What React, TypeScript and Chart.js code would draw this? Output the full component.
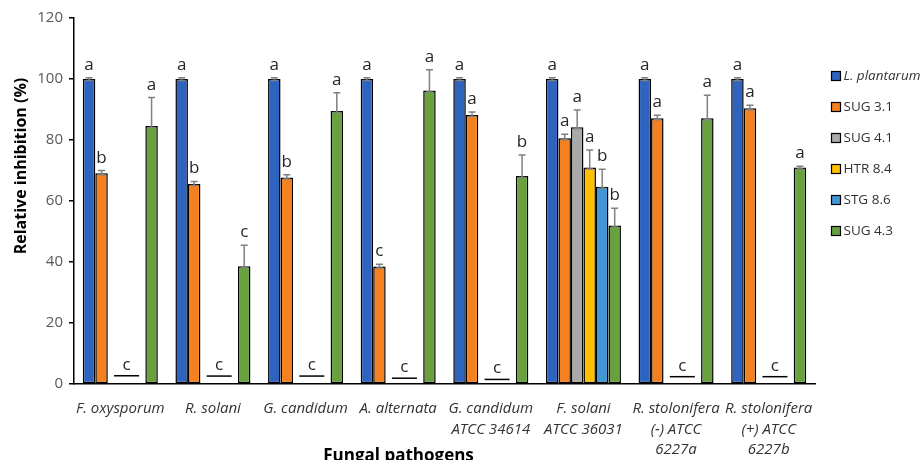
import React, { useEffect, useRef } from "react";
import { Chart, registerables } from "chart.js";
Chart.register(...registerables);

const categories: string[][] = [
  ["F. oxysporum"],
  ["R. solani"],
  ["G. candidum"],
  ["A. alternata"],
  ["G. candidum", "ATCC 34614"],
  ["F. solani", "ATCC 36031"],
  ["R. stolonifera", "(-) ATCC", "6227a"],
  ["R. stolonifera", "(+) ATCC", "6227b"],
];

const seriesNames = ["L. plantarum", "SUG 3.1", "SUG 4.1", "HTR 8.4", "STG 8.6", "SUG 4.3"];
const seriesColors = ["#2e63bf", "#f5801f", "#a9a9a9", "#ffc000", "#4396d4", "#69a13f"];

const lPlantarum = [100, 100, 100, 100, 100, 100, 100, 100];
const lPlantarumErr = [0.4, 0.4, 0.4, 0.4, 0.4, 0.4, 0.4, 0.4];
const lPlantarumLetters = ["a", "a", "a", "a", "a", "a", "a", "a"];

const sug31 = [69.1, 65.6, 67.7, 38.5, 88.2, 80.6, 87.1, 90.4];
const sug31Err = [0.9, 0.8, 0.9, 0.8, 1.0, 1.3, 1.0, 1.0];
const sug31Letters = ["b", "b", "b", "c", "a", "a", "a", "a"];

const sug41 = [null, null, null, null, null, 84.2, null, null];
const sug41Err = [0, 0, 0, 0, 0, 5.6, 0, 0];
const sug41Letters = ["", "", "", "", "", "a", "", ""];

const htr84 = [null, null, null, null, null, 71.0, null, null];
const htr84Err = [0, 0, 0, 0, 0, 5.7, 0, 0];
const htr84Letters = ["", "", "", "", "", "a", "", ""];

const stg86 = [null, null, null, null, null, 64.7, null, null];
const stg86Err = [0, 0, 0, 0, 0, 5.7, 0, 0];
const stg86Letters = ["", "", "", "", "", "b", "", ""];

const sug43 = [84.6, 38.6, 89.5, 96.2, 68.2, 52.0, 87.1, 71.0];
const sug43Err = [9.3, 6.9, 6.0, 6.8, 6.9, 5.6, 7.6, 0.4];
const sug43Letters = ["a", "c", "a", "a", "b", "b", "a", "a"];

// level of the "no inhibition" marker line drawn across SUG 4.1 / HTR 8.4 / STG 8.6
const noInhibitionLevel = [2.7, 2.6, 2.6, 1.9, 1.5, null, 2.4, 2.4];
const noInhibitionLetter = "c";

const yMin = 0;
const yMax = 120;
const yStep = 20;

const allValues = [lPlantarum, sug31, sug41, htr84, stg86, sug43];
const allErrors = [lPlantarumErr, sug31Err, sug41Err, htr84Err, stg86Err, sug43Err];
const allLetters = [lPlantarumLetters, sug31Letters, sug41Letters, htr84Letters, stg86Letters, sug43Letters];

const FONT = "'Open Sans', 'Liberation Sans', sans-serif";

const annotationPlugin = {
  id: "annotations",
  afterDatasetsDraw(chart: any) {
    const ctx = chart.ctx;
    const y = chart.scales.y;
    ctx.save();
    // error bars
    chart.data.datasets.forEach((ds: any, di: number) => {
      const meta = chart.getDatasetMeta(di);
      meta.data.forEach((el: any, i: number) => {
        const v = ds.data[i];
        if (v === null || v === undefined) return;
        const e = allErrors[di][i];
        const x = el.x;
        const yTop = y.getPixelForValue(v + e);
        const yBar = y.getPixelForValue(v);
        ctx.strokeStyle = "#808080";
        ctx.lineWidth = 1.5;
        ctx.beginPath();
        ctx.moveTo(x, yBar + 1.5);
        ctx.lineTo(x, yTop);
        ctx.moveTo(x - 3.5, yTop);
        ctx.lineTo(x + 3.5, yTop);
        ctx.moveTo(x - 3.5, yBar + 1.5);
        ctx.lineTo(x + 3.5, yBar + 1.5);
        ctx.stroke();
        const letter = allLetters[di][i];
        if (letter) {
          ctx.fillStyle = "#262626";
          ctx.font = `17px ${FONT}`;
          ctx.textAlign = "center";
          ctx.textBaseline = "alphabetic";
          ctx.fillText(letter, x, yTop - 8);
        }
      });
    });
    // no-inhibition markers
    const m2 = chart.getDatasetMeta(2);
    const m3 = chart.getDatasetMeta(3);
    const m4 = chart.getDatasetMeta(4);
    noInhibitionLevel.forEach((lv, i) => {
      if (lv === null) return;
      const py = y.getPixelForValue(lv);
      const x1 = m2.data[i].x;
      const x2 = m4.data[i].x;
      ctx.strokeStyle = "#000";
      ctx.lineWidth = 1.5;
      ctx.beginPath();
      ctx.moveTo(x1, py);
      ctx.lineTo(x2, py);
      ctx.stroke();
      ctx.fillStyle = "#262626";
      ctx.font = `17px ${FONT}`;
      ctx.textAlign = "center";
      ctx.textBaseline = "alphabetic";
      ctx.fillText(noInhibitionLetter, m3.data[i].x, py - 6);
    });
    ctx.restore();
  },
  afterDraw(chart: any) {
    const ctx = chart.ctx;
    const area = chart.chartArea;
    ctx.save();
    // legend
    chart.data.datasets.forEach((ds: any, i: number) => {
      const bx = area.right + 16.5;
      const cy = area.top + 58 + i * 31;
      ctx.fillStyle = ds.backgroundColor;
      ctx.fillRect(bx, cy - 4.5, 9, 9);
      ctx.strokeStyle = "#000";
      ctx.lineWidth = 1.2;
      ctx.strokeRect(bx, cy - 4.5, 9, 9);
      ctx.fillStyle = "#333";
      ctx.font = `${i === 0 ? "italic " : ""}13.5px ${FONT}`;
      ctx.textAlign = "left";
      ctx.textBaseline = "middle";
      ctx.fillText(ds.label, bx + 12, cy);
    });
    // axis titles
    ctx.fillStyle = "#000";
    ctx.font = `bold 16px ${FONT}`;
    ctx.textAlign = "center";
    ctx.textBaseline = "middle";
    ctx.translate(21, 166);
    ctx.rotate(-Math.PI / 2);
    ctx.fillText("Relative inhibition (%)", 0, 0);
    ctx.setTransform(1, 0, 0, 1, 0, 0);
    ctx.font = `bold 17px ${FONT}`;
    ctx.textBaseline = "alphabetic";
    ctx.fillText("Fungal pathogens", area.left + area.width * 0.438, 461);
    ctx.restore();
  },
};

export default function App() {
  const ref = useRef<HTMLCanvasElement>(null);
  useEffect(() => {
    if (!ref.current) return;
    const chart = new Chart(ref.current, {
      type: "bar",
      data: {
        labels: categories,
        datasets: seriesNames.map((name, i) => ({
          label: name,
          data: allValues[i],
          backgroundColor: seriesColors[i],
          borderColor: "#000",
          borderWidth: 1.5,
          borderSkipped: false,
          categoryPercentage: 0.81,
          barPercentage: 1.0,
        })),
      },
      options: {
        animation: false,
        responsive: true,
        maintainAspectRatio: false,
        devicePixelRatio: 1,
        layout: { padding: { left: 0, right: 106, top: 18, bottom: 0 } },
        plugins: {
          legend: { display: false },
          tooltip: { enabled: false },
          title: { display: false },
        },
        scales: {
          x: {
            grid: { display: false },
            border: { display: true, color: "#000", width: 1.5 },
            ticks: {
              color: "#333",
              font: { family: FONT, size: 15, style: "italic", lineHeight: 1.35 },
              padding: 7,
              maxRotation: 0,
              autoSkip: false,
            },
            afterFit(scale: any) {
              scale.height = 76;
            },
          },
          y: {
            min: yMin,
            max: yMax,
            grid: { drawOnChartArea: false, color: "#000", lineWidth: 1.5, tickLength: 5 },
            border: { display: true, color: "#000", width: 1.5 },
            ticks: {
              stepSize: yStep,
              color: "#595959",
              font: { family: FONT, size: 15 },
              padding: 6,
            },
            afterFit(scale: any) {
              scale.width = 74;
            },
          },
        },
      },
      plugins: [annotationPlugin],
    });
    return () => chart.destroy();
  }, []);
  return (
    <div style={{ position: "fixed", left: 0, top: 0, width: 921, height: 460, background: "#fff" }}>
      <canvas ref={ref} />
    </div>
  );
}
